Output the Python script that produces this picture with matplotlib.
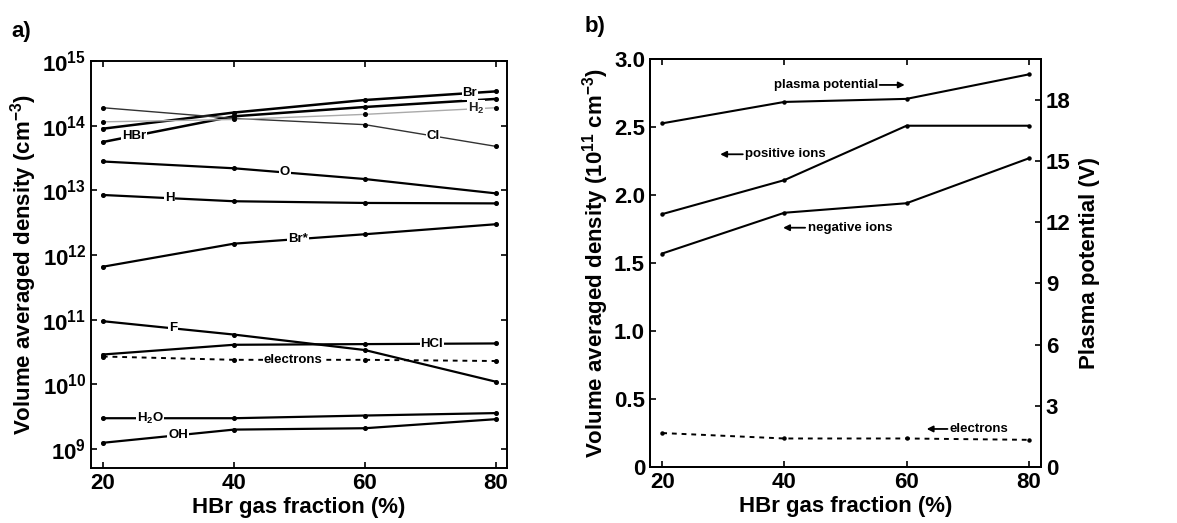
import matplotlib
matplotlib.use("Agg")
import matplotlib.pyplot as plt
import numpy as np

plt.rcParams['font.family'] = ['Liberation Sans', 'DejaVu Sans']
plt.rcParams['font.weight'] = 'bold'
plt.rcParams['mathtext.fontset'] = 'custom'
plt.rcParams['mathtext.rm'] = 'Liberation Sans:bold'
plt.rcParams['mathtext.bf'] = 'Liberation Sans:bold'
plt.rcParams['mathtext.default'] = 'bf'

# HBr gas fraction (%)
frac = [20, 40, 60, 80]

# panel a) species densities (cm^-3)
br = [9.0e13, 1.6e14, 2.5e14, 3.4e14]
hbr = [5.6e13, 1.4e14, 1.95e14, 2.6e14]
cl = [1.9e14, 1.3e14, 1.04e14, 4.8e13]
h2 = [1.15e14, 1.25e14, 1.5e14, 1.9e14]
o = [2.8e13, 2.2e13, 1.5e13, 9.0e12]
h = [8.5e12, 6.8e12, 6.4e12, 6.3e12]
br_star = [6.6e11, 1.5e12, 2.1e12, 3.0e12]
f = [9.5e10, 5.9e10, 3.4e10, 1.1e10]
hcl = [2.9e10, 4.1e10, 4.2e10, 4.3e10]
electrons_a = [2.7e10, 2.4e10, 2.4e10, 2.3e10]
h2o = [3.0e9, 3.0e9, 3.3e9, 3.6e9]
oh = [1.25e9, 2.0e9, 2.1e9, 2.9e9]

# panel b) densities (1e11 cm^-3) and plasma potential (V)
pos_ions = [1.86, 2.11, 2.51, 2.51]
neg_ions = [1.57, 1.87, 1.94, 2.27]
electrons_b = [0.25, 0.21, 0.21, 0.2]
plasma_pot = [16.85, 17.9, 18.05, 19.25]

fig = plt.figure(figsize=(11.77, 5.23), dpi=100)
ax1 = fig.add_axes([0.0773, 0.1052, 0.3535, 0.778])
ax2 = fig.add_axes([0.5522, 0.107, 0.3322, 0.78])

# (series, label, label x, line width, colour, style)
series_a = [
    (br, 'Br', 76.0, 1.8, 'black', '-'),
    (hbr, 'HBr', 24.8, 1.8, 'black', '-'),
    (cl, 'Cl', 70.4, 1.0, '#333333', '-'),
    (h2, 'H$_2$', 77.0, 1.0, '#aaaaaa', '-'),
    (o, 'O', 47.8, 1.6, 'black', '-'),
    (h, 'H', 30.2, 1.6, 'black', '-'),
    (br_star, 'Br*', 49.8, 1.6, 'black', '-'),
    (f, 'F', 30.7, 1.6, 'black', '-'),
    (hcl, 'HCl', 70.2, 1.6, 'black', '-'),
    (electrons_a, 'electrons', 49.0, 1.4, 'black', (0, (2.5, 2.5))),
    (h2o, 'H$_2$O', 27.2, 1.6, 'black', '-'),
    (oh, 'OH', 31.5, 1.6, 'black', '-'),
]

for vals, lab, lx, lw, col, ls in series_a:
    ax1.plot(frac, vals, color=col, lw=lw, ls=ls, marker='o', ms=2.6,
             mfc='black', mec='black')
    ly = 10 ** np.interp(lx, frac, np.log10(vals))
    tcol = 'black' if col != '#aaaaaa' else '#222222'
    ax1.text(lx, ly, lab, ha='center', va='center', fontsize=9.5, color=tcol,
             fontweight='bold',
             bbox=dict(facecolor='white', edgecolor='none', pad=0.6))

ax1.set_yscale('log')
ax1.set_xlim(18.2, 81.7)
ax1.set_ylim(5.1e8, 1e15)
ax1.set_xticks(frac)
ax1.set_yticks([1e9, 1e10, 1e11, 1e12, 1e13, 1e14, 1e15])
ax1.yaxis.set_minor_locator(matplotlib.ticker.NullLocator())
ax1.tick_params(direction='in', top=True, right=True, labelsize=16,
                length=4, width=1.2)
ax1.set_xlabel('HBr gas fraction (%)', fontsize=16, fontweight='bold',
               labelpad=2)
ax1.set_ylabel('Volume averaged density (cm$^{-3}$)', fontsize=16,
               fontweight='bold', labelpad=2)
for s in ax1.spines.values():
    s.set_linewidth(1.4)

# panel b
ax2.plot(frac, pos_ions, color='black', lw=1.5, marker='o', ms=2.2)
ax2.plot(frac, neg_ions, color='black', lw=1.5, marker='o', ms=2.2)
ax2.plot(frac, electrons_b, color='black', lw=1.4, ls=(0, (2.5, 2.5)),
         marker='o', ms=2.2)
ax2.set_xlim(18.0, 82.0)
ax2.set_ylim(0, 3.0)
ax2.set_xticks(frac)
ax2.set_yticks([0, 0.5, 1.0, 1.5, 2.0, 2.5, 3.0])
ax2.set_yticklabels(['0', '0.5', '1.0', '1.5', '2.0', '2.5', '3.0'])
ax2.tick_params(direction='in', top=True, labelsize=16, length=4, width=1.2)
ax2.set_xlabel('HBr gas fraction (%)', fontsize=16, fontweight='bold',
               labelpad=2)
ax2.set_ylabel('Volume averaged density (10$^{11}$ cm$^{-3}$)', fontsize=16,
               fontweight='bold', labelpad=2)

ax3 = ax2.twinx()
ax3.plot(frac, plasma_pot, color='black', lw=1.5, marker='o', ms=2.2)
ax3.set_ylim(0, 20)
ax3.set_yticks([0, 3, 6, 9, 12, 15, 18])
ax3.tick_params(direction='in', labelsize=16, length=4, width=1.2)
ax3.set_ylabel('Plasma potential (V)', fontsize=16, fontweight='bold',
               labelpad=6)
for a in (ax2, ax3):
    for s in a.spines.values():
        s.set_linewidth(1.4)

arrow = dict(arrowstyle='-|>', lw=1.3, color='black', mutation_scale=9,
             shrinkA=0, shrinkB=0)
# (text, text x, y, arrow tail x, arrow head x, text alignment)
notes_b = [
    ('plasma potential', 55.3, 2.81, 55.6, 59.7, 'right'),
    ('positive ions', 33.6, 2.30, 33.2, 29.5, 'left'),
    ('negative ions', 43.8, 1.76, 43.4, 39.8, 'left'),
    ('electrons', 67.1, 0.28, 66.7, 63.3, 'left'),
]
for txt, tx, ty, a0, a1, ha in notes_b:
    ax2.text(tx, ty, txt, fontsize=9.5, fontweight='bold', ha=ha,
             va='center')
    ax2.annotate('', xy=(a1, ty), xytext=(a0, ty), arrowprops=arrow)

fig.text(0.01, 0.94, 'a)', fontsize=16, fontweight='bold', va='center')
fig.text(0.497, 0.95, 'b)', fontsize=16, fontweight='bold', va='center')

fig.savefig('out.png', dpi=100)
